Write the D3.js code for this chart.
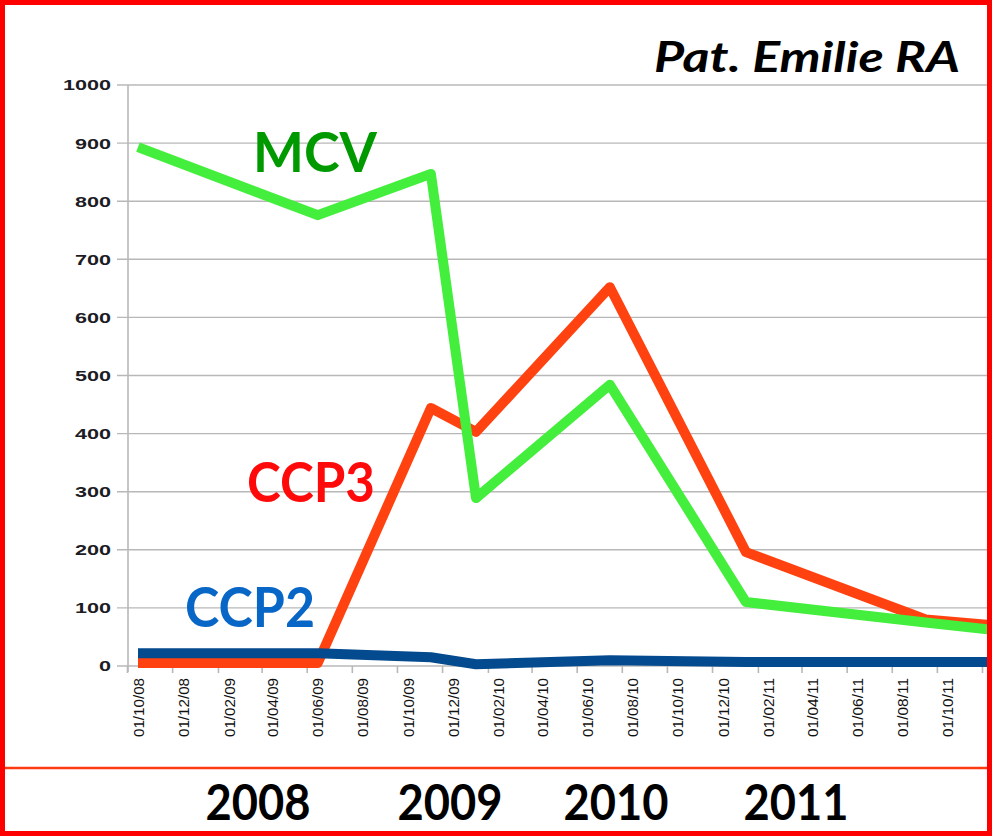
<!DOCTYPE html>
<meta charset="utf-8">
<script src="https://d3js.org/d3.v7.min.js"></script>
<style>body{margin:0;background:#fff}</style>
<div id="my_dataviz"></div>
<script>

// data
var dates = ["2008-10-01","2009-06-01","2009-11-01","2010-01-01","2010-07-01","2011-01-01","2011-09-01","2011-12-01"];
var mcv  = [893, 776, 847, 289, 484, 110, 75, 62];
var ccp3 = [5, 5, 444, 403, 652, 196, 80, 70];
var ccp2 = [22, 22, 15, 3, 10, 7, 7, 7];
var yTicks = [0, 100, 200, 300, 400, 500, 600, 700, 800, 900, 1000];
var xTickDates = ["2008-10-01","2008-12-01","2009-02-01","2009-04-01","2009-06-01","2009-08-01",
  "2009-10-01","2009-12-01","2010-02-01","2010-04-01","2010-06-01","2010-08-01","2010-10-01",
  "2010-12-01","2011-02-01","2011-04-01","2011-06-01","2011-08-01","2011-10-01","2011-12-01"];
var years = ["2008", "2009", "2010", "2011"];
var title = "Pat. Emilie RA";

var W = 992, H = 836;
var parse = d3.timeParse("%Y-%m-%d");
var fmt = d3.timeFormat("%d/%m/%y");

var svg = d3.select("#my_dataviz")
  .append("svg")
    .attr("width", W)
    .attr("height", H)
    .style("display", "block");

// clip to inside the red frame
svg.append("clipPath").attr("id", "inner")
  .append("rect").attr("x", 5).attr("y", 5).attr("width", W - 10).attr("height", H - 10);
var g = svg.append("g").attr("clip-path", "url(#inner)");

// scales
var x = d3.scaleTime()
  .domain([parse("2008-10-01"), parse("2011-12-01")])
  .range([138, 993]);
var y = d3.scaleLinear()
  .domain([0, 1000])
  .range([666, 85]);

// horizontal grid
g.append("g").selectAll("line")
  .data(yTicks)
  .enter().append("line")
    .attr("x1", 117).attr("x2", W)
    .attr("y1", function(d) { return y(d) })
    .attr("y2", function(d) { return y(d) })
    .attr("stroke", "#b8b8b8")
    .attr("stroke-width", 1.4);

// y axis line
g.append("line")
  .attr("x1", 128).attr("x2", 128)
  .attr("y1", y(1000)).attr("y2", 672)
  .attr("stroke", "#b8b8b8").attr("stroke-width", 1.6);

// y labels (wide bold digits)
g.append("g").selectAll("text")
  .data(yTicks)
  .enter().append("text")
    .attr("x", 111)
    .attr("y", function(d) { return y(d) })
    .attr("dy", "0.36em")
    .attr("text-anchor", "end")
    .attr("textLength", function(d) { return String(d).length * 12 })
    .attr("lengthAdjust", "spacingAndGlyphs")
    .style("font-family", "Liberation Sans, Arial, sans-serif")
    .style("font-weight", "bold")
    .style("font-size", "15px")
    .style("fill", "#1c1c24")
    .text(function(d) { return d });

// x axis
var xAxis = g.append("g")
  .attr("transform", "translate(0,666)")
  .call(d3.axisBottom(x)
    .tickValues(xTickDates.map(parse))
    .tickFormat(fmt)
    .tickSize(0));
xAxis.select(".domain").remove();
xAxis.selectAll("text")
  .attr("transform", "rotate(-90)")
  .attr("x", -12)
  .attr("y", 0)
  .attr("dy", "0.36em")
  .attr("text-anchor", "end")
  .attr("textLength", 59)
  .attr("lengthAdjust", "spacingAndGlyphs")
  .style("font-family", "Liberation Sans, Arial, sans-serif")
  .style("font-size", "14px")
  .style("fill", "#111");

// x tick marks sit a little left of each label
g.append("g").selectAll("line")
  .data(xTickDates.map(parse))
  .enter().append("line")
    .attr("x1", function(d) { return x(d) - 10.5 })
    .attr("x2", function(d) { return x(d) - 10.5 })
    .attr("y1", 666).attr("y2", 673)
    .attr("stroke", "#b8b8b8").attr("stroke-width", 1.6);

// lines
var series = [
  {name: "CCP3", values: ccp3, color: "#ff4210"},
  {name: "MCV",  values: mcv,  color: "#44ee3c"},
  {name: "CCP2", values: ccp2, color: "#044a8e"}
];
var line = d3.line()
  .x(function(d) { return x(d.date) })
  .y(function(d) { return y(d.v) });

series.forEach(function(s) {
  var pts = dates.map(function(d, i) { return {date: parse(d), v: s.values[i]} });
  g.append("path")
    .datum(pts)
    .attr("fill", "none")
    .attr("stroke", s.color)
    .attr("stroke-width", 10)
    .attr("stroke-linejoin", "round")
    .attr("d", line);
});

// series labels
var labelFont = "Lato, 'Open Sans', sans-serif";
var seriesLabels = [
  {text: "MCV",  x: 253, y: 172, len: 124, color: "#009a00"},
  {text: "CCP3", x: 247, y: 502, len: 128, color: "#ff0a0a"},
  {text: "CCP2", x: 185, y: 627, len: 130, color: "#0866c6"}
];
g.selectAll(".slabel")
  .data(seriesLabels)
  .enter().append("text")
    .attr("class", "slabel")
    .attr("x", function(d) { return d.x })
    .attr("y", function(d) { return d.y })
    .attr("textLength", function(d) { return d.len })
    .attr("lengthAdjust", "spacingAndGlyphs")
    .style("font-family", labelFont)
    .style("font-weight", "bold")
    .style("font-size", "56px")
    .style("fill", function(d) { return d.color })
    .text(function(d) { return d.text });

// title
g.append("text")
  .attr("x", 960)
  .attr("y", 72)
  .attr("text-anchor", "end")
  .attr("textLength", 306)
  .attr("lengthAdjust", "spacingAndGlyphs")
  .style("font-family", labelFont)
  .style("font-weight", "bold")
  .style("font-style", "italic")
  .style("font-size", "42px")
  .style("fill", "#000")
  .text(title);

// year band under the chart
svg.append("line")
  .attr("x1", 0).attr("x2", W)
  .attr("y1", 768).attr("y2", 768)
  .attr("stroke", "#ff3a10").attr("stroke-width", 2.5);

var yearX = [258, 450, 616, 796];
svg.selectAll(".year")
  .data(years)
  .enter().append("text")
    .attr("class", "year")
    .attr("x", function(d, i) { return yearX[i] })
    .attr("y", 820)
    .attr("text-anchor", "middle")
    .attr("textLength", 105)
    .attr("lengthAdjust", "spacingAndGlyphs")
    .style("font-family", labelFont)
    .style("font-weight", "bold")
    .style("font-size", "50px")
    .style("fill", "#000")
    .text(function(d) { return d });

// red frame
svg.append("rect")
  .attr("x", 2.5).attr("y", 2.5)
  .attr("width", W - 5).attr("height", H - 5)
  .attr("fill", "none")
  .attr("stroke", "#ff0000")
  .attr("stroke-width", 5);

</script>
